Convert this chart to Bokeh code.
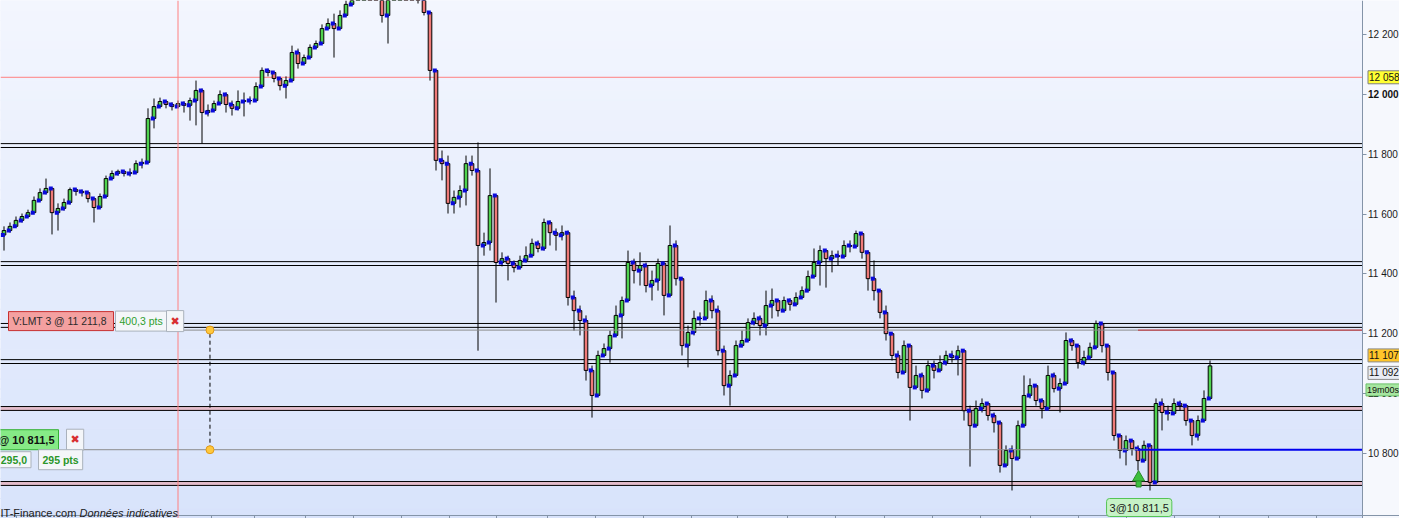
import numpy as np
from bokeh.plotting import figure
from bokeh.models import Range1d, FixedTicker, Span, BoxAnnotation, Label, LinearAxis
from bokeh.embed import file_html
from bokeh.resources import INLINE

# ---------------- data ----------------
first_open = 11530
close = [11545, 11559, 11579, 11592, 11605, 11646, 11672, 11686, 11605, 11619,
         11639, 11682, 11676, 11672, 11652, 11622, 11659, 11719, 11736, 11743,
         11736, 11739, 11769, 11773, 11920, 11960, 11977, 11967, 11960, 11970,
         11964, 11980, 12014, 11940, 11947, 11970, 12000, 11967, 11954, 11977,
         11980, 11980, 12027, 12081, 12074, 12054, 12030, 12047, 12141, 12104,
         12124, 12158, 12171, 12221, 12238, 12221, 12265, 12302, 12348, 12382,
         12399, 12375, 12355, 12265, 12332, 12382, 12415, 12409, 12365, 12322,
         12275, 12081, 11780, 11769, 11636, 11656, 11679, 11769, 11746, 11495,
         11505, 11662, 11438, 11451, 11435, 11421, 11445, 11461, 11502, 11485,
         11572, 11538, 11529, 11538, 11321, 11277, 11244, 11077, 10993, 11127,
         11150, 11194, 11261, 11311, 11438, 11411, 11428, 11361, 11378, 11435,
         11328, 11495, 11384, 11160, 11204, 11251, 11251, 11311, 11277, 11143,
         11026, 11060, 11160, 11177, 11237, 11251, 11227, 11294, 11311, 11277,
         11311, 11298, 11321, 11344, 11391, 11438, 11478, 11451, 11461, 11458,
         11495, 11492, 11535, 11472, 11384, 11344, 11271, 11200, 11127, 11070,
         11160, 11020, 11060, 11010, 11093, 11077, 11103, 11127, 11120, 11143,
         10942, 10892, 10949, 10966, 10926, 10902, 10759, 10809, 10782, 10892,
         10993, 11026, 10976, 10949, 11060, 11016, 11033, 11177, 11160, 11103,
         11120, 11154, 11234, 11160, 11070, 10859, 10809, 10842, 10815, 10775,
         10826, 10702, 10966, 10936, 10933, 10966, 10959, 10909, 10859, 10909,
         10983, 11092]
high = [11559, 11572, 11592, 11602, 11615, 11659, 11686, 11719, 11679, 11636,
        11652, 11689, 11686, 11682, 11672, 11652, 11669, 11729, 11746, 11749,
        11746, 11753, 11780, 11786, 11954, 11987, 11990, 11980, 11974, 11980,
        11977, 11990, 12047, 12020, 11967, 11980, 12014, 12007, 11980, 12014,
        12007, 11994, 12041, 12091, 12087, 12071, 12047, 12061, 12164, 12154,
        12134, 12168, 12181, 12235, 12255, 12271, 12282, 12315, 12365, 12399,
        12422, 12409, 12382, 12365, 12365, 12409, 12442, 12432, 12415, 12375,
        12308, 12275, 12081, 11813, 11796, 11679, 11696, 11796, 11796, 11840,
        11538, 11753, 11662, 11472, 11461, 11445, 11461, 11492, 11518, 11512,
        11585, 11579, 11552, 11562, 11545, 11344, 11294, 11261, 11093, 11143,
        11167, 11210, 11294, 11324, 11478, 11451, 11472, 11438, 11411, 11451,
        11428, 11562, 11512, 11384, 11227, 11277, 11271, 11344, 11328, 11294,
        11160, 11077, 11177, 11210, 11251, 11271, 11261, 11344, 11351, 11311,
        11324, 11318, 11338, 11358, 11411, 11485, 11495, 11472, 11478, 11478,
        11512, 11512, 11545, 11538, 11478, 11445, 11344, 11294, 11204, 11143,
        11177, 11160, 11093, 11070, 11110, 11110, 11127, 11143, 11143, 11160,
        11143, 10959, 10976, 10983, 10959, 10936, 10909, 10826, 10826, 10909,
        11060, 11050, 11026, 10983, 11093, 11070, 11050, 11204, 11184, 11160,
        11143, 11170, 11244, 11237, 11160, 11070, 10849, 10859, 10842, 10826,
        10842, 10826, 10983, 10983, 10959, 10983, 10976, 10949, 10909, 10926,
        11010, 11110]
low = [11478, 11538, 11559, 11572, 11592, 11605, 11646, 11666, 11532, 11545,
       11612, 11632, 11662, 11659, 11639, 11572, 11619, 11659, 11723, 11729,
       11726, 11726, 11739, 11753, 11773, 11887, 11960, 11954, 11947, 11957,
       11940, 11913, 11897, 11836, 11927, 11954, 11980, 11940, 11930, 11947,
       11927, 11967, 11980, 12027, 12061, 12041, 12014, 11987, 12047, 12087,
       12108, 12134, 12154, 12171, 12221, 12124, 12221, 12275, 12308, 12342,
       12365, 12348, 12332, 12241, 12171, 12348, 12389, 12382, 12348, 12305,
       12265, 12047, 11746, 11713, 11602, 11602, 11622, 11629, 11729, 11143,
       11461, 11478, 11304, 11425, 11378, 11405, 11418, 11438, 11478, 11472,
       11478, 11495, 11478, 11512, 11294, 11210, 11194, 11043, 10919, 11010,
       11123, 11103, 11244, 11184, 11361, 11368, 11361, 11338, 11311, 11344,
       11261, 11328, 11361, 11127, 11087, 11194, 11227, 11251, 11251, 11127,
       10993, 10959, 11060, 11154, 11194, 11227, 11194, 11194, 11251, 11257,
       11291, 11277, 11311, 11324, 11344, 11405, 11361, 11354, 11405, 11428,
       11478, 11472, 11495, 11451, 11344, 11311, 11251, 11177, 11110, 11050,
       11070, 10909, 11026, 10983, 11003, 11050, 11077, 11093, 11103, 11060,
       10909, 10755, 10922, 10936, 10909, 10869, 10735, 10769, 10675, 10782,
       10892, 10983, 10959, 10916, 10949, 11003, 10936, 11050, 11143, 11083,
       11093, 11127, 11160, 11137, 11043, 10842, 10782, 10759, 10792, 10742,
       10775, 10675, 10702, 10876, 10909, 10942, 10942, 10892, 10826, 10842,
       10909, 10983]

black_levels = [11836, 11823, 11441, 11428, 11234, 11221, 11113, 11100]
pink_zones = [(10943, 10956), (10692, 10705)]
order_sell = 11211.8
order_buy = 10811.5
crosshair_price = 12058
crosshair_bar = 29
link_bar = 34.33
entry_bar = 189
last_price = 11092
session_high = 11107
y_ticks = [10800, 11000, 11200, 11400, 11600, 11800, 12000, 12200]
y_tick_text = ["10 800", "11 000", "11 200", "11 400", "11 600", "11 800", "12 000", "12 200"]
time_ticks = [2, 10.5, 18.5, 26.5, 34.5, 41.67, 50.17, 58.33, 66.33, 74.33, 82,
              90.5, 98.5, 106.5, 114.5, 122.33, 130.5, 138.5, 146.83, 154.83,
              162.67, 171, 179, 187, 195, 202.5, 210.67, 218.83]

# ---------------- geometry ----------------
BAR_PX = 6.0
def xb(px):
    return (px - 3.5) / BAR_PX

W, H = 1399, 518
x_start, x_end = xb(0), xb(W)
axis_x = xb(1361.5)
y_end = 12315.0
ppx = 3.347
y_start = y_end - H * ppx
time_axis_y = y_start + 3.5 * ppx

n = len(close)
xs = np.arange(n)
c = np.array(close, float)
o = np.concatenate([[first_open], c[:-1]])   # each bar opens at the previous close
h = np.maximum.reduce([np.array(high, float), o, c])
l = np.minimum.reduce([np.array(low, float), o, c])
up = c >= o

p = figure(width=W, height=H, output_backend="svg", toolbar_location=None,
           x_range=Range1d(x_start, x_end), y_range=Range1d(y_start, y_end),
           x_axis_location=None, y_axis_location=None,
           min_border_left=0, min_border_top=0, min_border_bottom=0, min_border_right=0)
p.outline_line_color = None
p.grid.visible = False
p.border_fill_color = "#f6f8fd"
p.background_fill_color = "#f6f8fd"

# background gradient of the chart area (decoration)
nb = 52
edges = np.linspace(y_start, y_end, nb + 1)
top_rgb = np.array([0xf3, 0xf6, 0xfe], float)
bot_rgb = np.array([0xd8, 0xe3, 0xfb], float)
cols = []
for k in range(nb):
    t = (k + 0.5) / nb
    cc = bot_rgb + (top_rgb - bot_rgb) * t
    cols.append("#%02x%02x%02x" % tuple(int(round(v)) for v in cc))
p.quad(left=x_start - 5, right=axis_x, bottom=edges[:-1], top=edges[1:],
       fill_color=cols, line_color=cols, line_width=1, level="image")

# pink zones and black levels (they stop at the price axis)
for lo_, hi_ in pink_zones:
    p.add_layout(BoxAnnotation(bottom=lo_, top=hi_, right=axis_x, fill_color="#e4bccb",
                               fill_alpha=1.0, line_color=None, level="underlay"))
lines_y = black_levels + [v for z in pink_zones for v in z]
p.segment([x_start] * len(lines_y), lines_y, [axis_x] * len(lines_y), lines_y,
          line_color="black", line_width=1)

p.add_layout(Span(location=crosshair_bar, dimension="height", line_color="#ff8080", line_width=1))
p.segment([x_start], [crosshair_price], [axis_x], [crosshair_price], line_color="#ff8080",
          line_width=1)

# candles
p.segment(xs, l, xs, h, line_color="black", line_width=1)
p.vbar(x=xs, width=0.6, top=np.maximum(o, c), bottom=np.minimum(o, c),
       fill_color=["#4fd34f" if u else "#ef7a78" for u in up],
       line_color="black", line_width=1)
p.scatter(xs - 0.2, o, marker="square", size=4, fill_color="#0a0adc", line_color=None)

# order lines
p.segment([xb(180)], [order_sell], [entry_bar], [order_sell], line_color="#8c8c8c", line_width=1)
p.segment([entry_bar], [order_sell], [axis_x], [order_sell], line_color="#a00000", line_width=1)
p.segment([xb(70)], [order_buy], [entry_bar], [order_buy], line_color="#8c8c8c", line_width=1)
p.segment([entry_bar], [order_buy], [axis_x], [order_buy], line_color="#0000ee", line_width=2)

# link between the two orders
p.segment([link_bar], [order_buy], [link_bar], [order_sell], line_color="black",
          line_width=1, line_dash="4 3")
p.scatter([link_bar, link_bar], [order_sell, order_buy], marker="circle", size=8,
          fill_color="#ffc83c", line_color="#e09a1a")

# entry arrow
arrow_head = l[entry_bar] - 7 * ppx
arrow_stem = l[entry_bar] - 13 * ppx
p.rect([entry_bar + 0.1], [arrow_stem], width=5, height=7, width_units="screen",
       height_units="screen", fill_color="#3cbf3c", line_color="#2a8a2a")
p.scatter([entry_bar + 0.1], [arrow_head], marker="triangle", size=12,
          fill_color="#3cbf3c", line_color="#2a8a2a")

# ---------------- axes ----------------
yax = LinearAxis(fixed_location=axis_x, ticker=FixedTicker(ticks=y_ticks, minor_ticks=[]))
yax.major_label_overrides = {t: ("" if t in (11000, 12000) else s)
                             for t, s in zip(y_ticks, y_tick_text)}
yax.major_label_text_font = "Liberation Sans"
yax.major_label_text_font_size = "10px"
yax.major_label_text_color = "#1a1a1a"
yax.axis_line_color = "#8494a8"
yax.major_tick_line_color = "#8494a8"
yax.major_tick_out = 4
yax.major_tick_in = 0
yax.major_label_standoff = 2
p.add_layout(yax, "right")

xax = LinearAxis(fixed_location=time_axis_y, ticker=FixedTicker(ticks=time_ticks, minor_ticks=[]))
xax.major_label_overrides = {t: "" for t in time_ticks}
xax.major_label_text_font_size = "0px"
xax.major_label_standoff = 0
xax.axis_line_color = "#8494a8"
xax.major_tick_line_color = "#8494a8"
xax.major_tick_out = 4
xax.major_tick_in = 0
p.add_layout(xax, "below")

# bold round-number labels
for val, txt in ((12000, "12 000"), (11000, "11 000")):
    p.add_layout(Label(x=axis_x, y=val, x_offset=6, text=txt, text_font="Liberation Sans",
                       text_font_size="10px", text_font_style="bold", text_color="#111111",
                       text_baseline="middle"))

def axis_box(y, txt, fill, border, yoff, size="10px", xoff=6):
    p.add_layout(Label(x=axis_x, y=y, x_offset=xoff, y_offset=yoff, text=txt,
                       text_font="Liberation Sans", text_font_size=size, text_color="#111111",
                       text_baseline="middle", padding=1, background_fill_color=fill,
                       border_line_color=border, border_line_width=1))

axis_box(crosshair_price, "12 058", "#ffff33", "#7d7d7d", 0)
axis_box(session_high, "11 107", "#ffc62a", "#8a8a8a", 6)
axis_box(last_price, "11 092", "#e9edf5", "#8a8a8a", -7)
axis_box(last_price, "19m00s", "#a6e6a0", "#6cc06c", -24, size="9px", xoff=4)

# ---------------- order tickets on the left ----------------
def ticket(x, y, txt, fill, border, color, yoff, align="left", bold=False, size="10.5px",
           font="Liberation Sans"):
    p.add_layout(Label(x=x, y=y, y_offset=yoff, text=txt, text_font=font,
                       text_font_size=size, text_font_style="bold" if bold else "normal",
                       text_color=color, text_align=align, text_baseline="middle",
                       padding=4, background_fill_color=fill, border_line_color=border,
                       border_line_width=1))

ticket(xb(8), order_sell, "V:LMT  3 @ 11 211,8", "#f4a0a0", "#c83030", "#2a2a2a", 9,
       size="10.4px")
ticket(xb(115), order_sell, "400,3 pts", "#f4f6f9", "#aab2bc", "#2e9e2e", 9)
ticket(xb(166), order_sell, "\u2716", "#f4f6f9", "#aab2bc", "#d83030", 9, size="11px",
       font="DejaVu Sans")

ticket(xb(58), order_buy, "@ 10 811,5", "#86ea86", "#34b034", "#111111", 10, align="right",
       bold=True, size="11px")
ticket(xb(66), order_buy, "\u2716", "#f4f6f9", "#aab2bc", "#d83030", 10, size="11px",
       font="DejaVu Sans")
ticket(xb(30.5), order_buy, "295,0", "#f4f6f9", "#aab2bc", "#2a962a", -10, align="right",
       bold=True, size="10.5px")
ticket(xb(38), order_buy, "295 pts", "#f4f6f9", "#aab2bc", "#2a962a", -10, bold=True,
       size="10.5px")

# execution label
p.add_layout(Label(x=entry_bar + 0.2, y=y_start, y_offset=2, text="3@10 811,5",
                   text_font="Liberation Sans", text_font_size="11px", text_color="#1a1a1a",
                   text_align="center", text_baseline="bottom", padding=3,
                   background_fill_color="#c6f2c6", border_line_color="#55c455",
                   border_radius=3))

# crosshair date box on the time axis (its text falls below the window)
p.add_layout(Label(x=xb(194.5), y=time_axis_y, y_offset=-4, text="\u00a0" * 36,
                   text_font="Liberation Sans", text_font_size="11px", text_align="center",
                   text_baseline="top", padding=3, background_fill_color="#ffff44",
                   border_line_color="#6a6a6a"))

# watermark
p.add_layout(Label(x=x_start, y=y_start, y_offset=6, text="IT-Finance.com",
                   text_font="Liberation Sans", text_font_size="11px", text_color="#1a1a1a",
                   text_baseline="alphabetic"))
p.add_layout(Label(x=xb(79), y=y_start, y_offset=6, text="Données indicatives",
                   text_font="Liberation Sans", text_font_size="11px", text_color="#1a1a1a",
                   text_font_style="italic", text_baseline="alphabetic"))

open("out.html", "w").write(file_html(p, INLINE))
